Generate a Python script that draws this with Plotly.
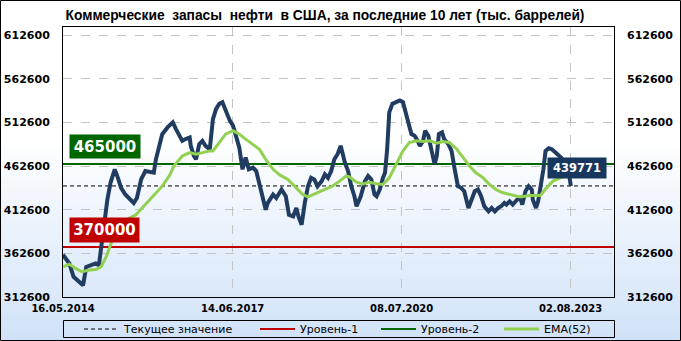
import plotly.graph_objects as go
import pandas as pd

# ---------------- data ----------------
start_date = "2014-05-16"
end_date = "2024-05-16"

# weekly index (weeks since start_date) and commercial crude stocks, thousand barrels
weeks = [0, 6, 10, 15, 19, 22, 26, 31, 34, 36, 39, 42, 45, 49, 52, 55, 59, 64, 67, 70,
         74, 78, 83, 86, 88, 91, 94, 99, 104, 107, 110, 113, 116, 120, 121, 124, 126, 129, 132, 135,
         139, 142, 145, 148, 151, 154, 158, 161, 164, 167, 170, 173, 176, 180, 183, 186, 189, 192, 194, 199,
         202, 207, 211, 214, 218, 221, 223, 226, 229, 232, 235, 238, 241, 245, 248, 251, 254, 257, 260, 263,
         267, 270, 273, 276, 278, 282, 286, 289, 292, 295, 297, 300, 303, 305, 307, 309, 312, 316, 319, 322,
         324, 327, 330, 333, 336, 338, 341, 343, 346, 349, 352, 354, 356, 359, 361, 365, 368, 371, 374, 377,
         380, 384, 387, 390, 393, 396, 399, 403, 406, 409, 412, 415, 418, 420, 423, 426, 430, 433, 435, 438,
         441, 444, 445, 448, 450, 452, 455, 457, 460, 463, 467, 472, 476, 479, 481]
stocks = [361000, 351000, 335700, 330000, 326000, 347000, 349000, 351000, 349000, 370000,
          397000, 424000, 443400, 458800, 449000, 437600, 430000, 424000, 420300, 426000,
          447200, 456800, 454900, 454900, 470300, 485700, 499100, 506800, 512600, 504900,
          499100, 491400, 493400, 495300, 485700, 474100, 470300, 487600, 491400, 485700,
          481800, 516400, 528000, 533800, 535700, 526100, 514500, 508800, 497200, 483700,
          458800, 472200, 458800, 460700, 456800, 443400, 428000, 412600, 420300, 430000,
          426000, 435700, 428000, 406800, 404900, 414500, 404900, 395300, 420300, 439500,
          449000, 447200, 439500, 445300, 453000, 449000, 456800, 470300, 476100, 485700,
          466400, 456800, 439500, 428000, 416500, 428000, 445300, 451100, 447200, 430000,
          428000, 435700, 449000, 454900, 481800, 524100, 533800, 535700, 537600, 535700,
          528000, 512600, 499100, 497200, 491400, 485700, 491400, 503000, 497200, 481800,
          464500, 474100, 499100, 501000, 493400, 487600, 479900, 458800, 439500, 437600,
          433700, 414500, 424000, 433700, 435700, 428000, 416500, 410700, 414500, 410700,
          414500, 416500, 420300, 418400, 422200, 418400, 424000, 426000, 418400, 433700,
          439500, 435700, 424000, 414500, 422200, 435700, 458800, 479900, 483000, 481800,
          478000, 472000, 465000, 455000, 439771]

ema_weeks = [0, 6, 12, 18, 25, 31, 36, 41, 45, 50, 56, 63, 69, 75, 82, 88, 94, 101, 105, 113,
             120, 126, 132, 139, 142, 148, 154, 161, 167, 173, 180, 186, 192, 199, 205, 213, 221, 227, 232, 237,
             243, 249, 255, 262, 268, 271, 278, 284, 290, 297, 303, 309, 316, 322, 328, 335, 341, 347, 354, 360,
             366, 373, 379, 385, 391, 398, 404, 410, 416, 423, 433, 442, 452, 458, 464, 471, 477, 481]
ema_values = [347200, 350300, 345300, 341500, 343400, 344100, 347200, 358800, 372200, 385700,
              393400, 403000, 406800, 414500, 424000, 431800, 439500, 452000, 462600, 474100,
              478000, 476100, 478000, 479900, 479900, 489500, 499100, 503000, 499100, 493400,
              487600, 481800, 470300, 458800, 452500, 447200, 437600, 429900, 427200, 429900,
              432600, 435700, 439500, 445300, 451100, 450300, 444100, 442200, 444100, 442200,
              441400, 449000, 466400, 479900, 489500, 491400, 490700, 491400, 488800, 490700,
              489500, 481800, 472200, 462600, 454900, 449000, 441400, 435700, 432200, 429900,
              427200, 428800, 428800, 437600, 445300, 449000, 451800, 451800]

level1 = 370000
level2 = 465000
current_value = 439771

tick_dates = ["2014-05-16", "2017-06-14", "2020-07-08", "2023-08-02"]
tick_labels = ["16.05.2014", "14.06.2017", "08.07.2020", "02.08.2023"]
y_ticks = [312600, 362600, 412600, 462600, 512600, 562600, 612600]
y_range = [312600, 621800]

title_text = "Коммерческие  запасы  нефти  в США, за последние 10 лет (тыс. баррелей)"
legend_names = ["Текущее значение", "Уровень-1", "Уровень-2", "EMA(52)"]

# ---------------- build ----------------
t0 = pd.Timestamp(start_date)
dates = [t0 + pd.Timedelta(weeks=w) for w in weeks]
ema_dates = [t0 + pd.Timedelta(weeks=w) for w in ema_weeks]
span = [start_date, end_date]

W, H = 681, 341
ML, MR, MT, MB = 63, 67, 27, 44
PW = W - ML - MR
PH = H - MT - MB

NAVY = "#213C61"
GREEN = "#006600"
RED = "#C00000"
LIGHT = "#92D050"

fig = go.Figure()
fig.add_trace(go.Scatter(x=span, y=[current_value] * 2, mode="lines", name=legend_names[0],
                         legend="legend", line=dict(color="black", width=1, dash="4px,3px")))
fig.add_trace(go.Scatter(x=span, y=[level1] * 2, mode="lines", name=legend_names[1],
                         legend="legend2", line=dict(color=RED, width=2)))
fig.add_trace(go.Scatter(x=span, y=[level2] * 2, mode="lines", name=legend_names[2],
                         legend="legend3", line=dict(color=GREEN, width=2)))
fig.add_trace(go.Scatter(x=dates, y=stocks, mode="lines", showlegend=False,
                         line=dict(color=NAVY, width=4)))
fig.add_trace(go.Scatter(x=ema_dates, y=ema_values, mode="lines", name=legend_names[3],
                         legend="legend4", line=dict(color=LIGHT, width=3)))
# invisible trace for right axis
fig.add_trace(go.Scatter(x=[start_date], y=[y_ticks[0]], yaxis="y2", mode="markers",
                         marker=dict(opacity=0), showlegend=False, hoverinfo="skip"))

# background gradient (white -> light blue)
shapes = []
g_top, g_bot = 140, H
n = 40
c0 = (255, 255, 255)
c1 = (208, 226, 248)
for i in range(n):
    y_a = g_top + (g_bot - g_top) * i / n
    y_b = g_top + (g_bot - g_top) * (i + 1) / n + 0.6
    f = (i + 0.5) / n
    col = "rgb(%d,%d,%d)" % tuple(round(c0[k] + (c1[k] - c0[k]) * f) for k in range(3))
    shapes.append(dict(type="rect", xref="paper", yref="paper", layer="below",
                       x0=-ML / PW, x1=1 + MR / PW,
                       y0=(H - MB - y_b) / PH, y1=(H - MB - y_a) / PH,
                       fillcolor=col, line=dict(width=0)))
# outer frame
shapes.append(dict(type="rect", xref="paper", yref="paper", layer="above",
                   x0=-(ML - 0.5) / PW, x1=1 + (MR - 0.5) / PW,
                   y0=-(MB - 0.5) / PH, y1=1 + (MT - 0.5) / PH,
                   line=dict(color="black", width=1)))
# legend frame
leg_top, leg_bot = 320.5, 337.5
shapes.append(dict(type="rect", xref="paper", yref="paper", layer="above",
                   x0=0.5 / PW, x1=1 + 0.5 / PW,
                   y0=-(leg_bot - (H - MB)) / PH, y1=-(leg_top - (H - MB)) / PH,
                   line=dict(color="black", width=1)))

tick_font = dict(family="DejaVu Sans", size=11, color="black", weight="bold")
axis_common = dict(showline=True, linecolor="black", linewidth=1, mirror=True,
                   gridcolor="#C4C4C4", griddash="dash", gridwidth=1, zeroline=False, ticks="")

leg_y = -((leg_top + leg_bot) / 2 - (H - MB)) / PH
leg_font = dict(family="DejaVu Sans", size=11, color="black")
line_starts = [89, 265, 386, 509]


def leg(px):
    return dict(orientation="h", x=(px - 10 - ML) / PW, xanchor="left", y=leg_y, yanchor="middle",
                bgcolor="rgba(0,0,0,0)", borderwidth=0, font=leg_font, itemwidth=35)


fig.update_layout(
    width=W, height=H,
    margin=dict(l=ML, r=MR, t=MT, b=MB, pad=0, autoexpand=False),
    paper_bgcolor="white", plot_bgcolor="rgba(0,0,0,0)",
    title=dict(text=title_text, x=325 / W, xanchor="center", xref="container", y=1 - 15 / H,
               yanchor="middle", yref="container",
               font=dict(family="Liberation Sans", size=13.8, color="black", weight="bold")),
    xaxis=dict(type="date", range=span, tickvals=tick_dates, ticktext=tick_labels,
               tickfont=dict(family="DejaVu Sans", size=10, color="black", weight="bold"),
               ticklabelstandoff=2, **axis_common),
    yaxis=dict(range=y_range, tickvals=y_ticks, tickfont=tick_font, ticklabelstandoff=10,
               tickformat="d", **axis_common),
    yaxis2=dict(range=y_range, tickvals=y_ticks, tickfont=tick_font, overlaying="y", side="right",
                showgrid=False, zeroline=False, ticks="", ticklabelstandoff=12, tickformat="d"),
    legend=leg(line_starts[0]),
    legend2=leg(line_starts[1]),
    legend3=leg(line_starts[2]),
    legend4=leg(line_starts[3]),
    shapes=shapes,
    showlegend=True,
)

fig.add_annotation(x=0, xref="paper", xanchor="left", xshift=6, y=level2, yref="y", yanchor="bottom",
                   yshift=5, text="465000", showarrow=False, bgcolor=GREEN, borderpad=2,
                   width=66, height=19,
                   font=dict(family="DejaVu Sans", size=15, color="white", weight="bold"))
fig.add_annotation(x=0, xref="paper", xanchor="left", xshift=5.5, y=level1, yref="y", yanchor="bottom",
                   yshift=4, text="370000", showarrow=False, bgcolor=RED, borderpad=2,
                   width=65, height=20,
                   font=dict(family="DejaVu Sans", size=15, color="white", weight="bold"))
fig.add_annotation(x=dates[-1], xref="x", xanchor="center", xshift=6.5, y=current_value, yref="y",
                   yanchor="bottom", yshift=7, text=f"{current_value}", showarrow=False,
                   bgcolor="#17375E", borderpad=2, width=54, height=16,
                   font=dict(family="DejaVu Sans", size=11.5, color="white", weight="bold"))

fig.write_html("out.html")
